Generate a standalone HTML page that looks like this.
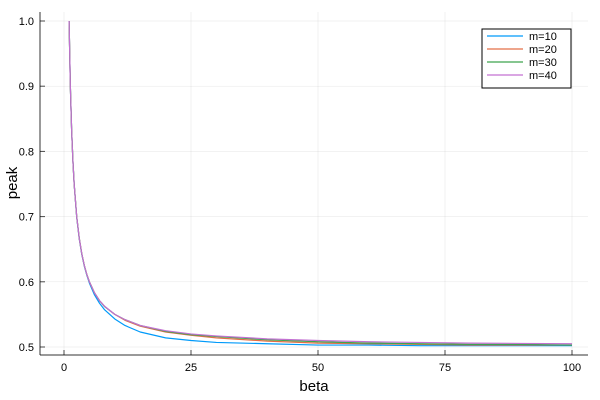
<!DOCTYPE html>
<html><head><meta charset="utf-8"><style>
body{margin:0;background:#fff}
svg{display:block;font-family:"Liberation Sans","DejaVu Sans",sans-serif}
</style></head><body>
<svg id="chart" width="600" height="400">
<rect width="600" height="400" fill="#fff"/>
<g id="grid"></g>
<g id="axes"></g>
<g id="series"></g>
<text x="314" y="391" font-size="15" text-anchor="middle">beta</text>
<text transform="translate(17,183) rotate(-90)" font-size="15" text-anchor="middle">peak</text>
<g id="legend"></g>
</svg>
<script>
const betas=[1,1.25,1.5,1.75,2,2.5,3,3.5,4,4.5,5,6,7,8,10,12,15,20,25,30,40,50,60,70,80,90,100];
const m10=[1.0,0.9,0.833,0.786,0.75,0.699,0.666,0.642,0.624,0.610,0.598,0.580,0.567,0.557,0.543,0.533,0.523,0.514,0.510,0.507,0.505,0.503,0.503,0.502,0.502,0.502,0.502];
const m20=[1.0,0.9,0.833,0.786,0.75,0.70,0.667,0.643,0.625,0.611,0.600,0.583,0.571,0.562,0.550,0.541,0.532,0.523,0.518,0.514,0.509,0.506,0.505,0.504,0.503,0.503,0.503];
const m30=[1.0,0.9,0.833,0.786,0.75,0.70,0.667,0.643,0.625,0.611,0.600,0.583,0.571,0.562,0.550,0.542,0.533,0.524,0.519,0.516,0.511,0.508,0.506,0.505,0.504,0.504,0.503];
const m40=[1.0,0.9,0.833,0.786,0.75,0.70,0.667,0.643,0.625,0.611,0.600,0.583,0.571,0.5625,0.550,0.542,0.533,0.525,0.520,0.517,0.5125,0.510,0.508,0.507,0.506,0.5055,0.505];
const seriesNames=["m=10","m=20","m=30","m=40"];
const xTicks=[0,25,50,75,100];
const yTicks=[0.5,0.6,0.7,0.8,0.9,1.0];
const colors=["#009AFA","#E36F47","#3EA44E","#C371D2"];
const NS="http://www.w3.org/2000/svg";
const X=v=>64+v*5.08;
const Y=v=>347-(v-0.5)*652;
const L=40,R=588,T=12,B=355;
function mk(tag,attrs,parent){const e=document.createElementNS(NS,tag);for(const k in attrs)e.setAttribute(k,attrs[k]);parent.appendChild(e);return e;}
const grid=document.getElementById('grid'),axes=document.getElementById('axes'),ser=document.getElementById('series'),leg=document.getElementById('legend');
xTicks.forEach(t=>{
  const g=mk('line',{x1:X(t),x2:X(t),y1:T,y2:B,stroke:'#000','stroke-opacity':0.1,'stroke-width':0.5},grid);
  
  
  const tk=mk('line',{x1:X(t),x2:X(t),y1:B,y2:B-5,stroke:'#000','stroke-opacity':0.7},axes);
  
  
  const tx=mk('text',{x:X(t),y:371,'font-size':11,'text-anchor':'middle'},axes);tx.textContent=t;
  
  
});
yTicks.forEach(t=>{
  const g=mk('line',{x1:L,x2:R,y1:Y(t),y2:Y(t),stroke:'#000','stroke-opacity':0.1,'stroke-width':0.5},grid);
  
  
  const tk=mk('line',{x1:L,x2:L+5,y1:Y(t),y2:Y(t),stroke:'#000','stroke-opacity':0.7},axes);
  
  
  const tx=mk('text',{x:34,y:Y(t)+4,'font-size':11,'text-anchor':'end'},axes);tx.textContent=t.toFixed(1);
  
  
});
const xa=mk('line',{x1:L,x2:R,y1:B,y2:B,stroke:'#000','stroke-opacity':0.8},axes);


const ya=mk('line',{x1:L,x2:L,y1:T,y2:B,stroke:'#000','stroke-opacity':0.8},axes);


[m10,m20,m30,m40].forEach((vals,i)=>{
  const p=mk('polyline',{points:betas.map((b,j)=>X(b)+','+Y(vals[j])).join(' '),fill:'none',stroke:colors[i],'stroke-width':1.2,'stroke-linejoin':'round'},ser);
  
  
});
const box=mk('rect',{x:482,y:29,width:89,height:59,fill:'#fff',stroke:'#000','stroke-width':1},leg);


seriesNames.forEach((n,i)=>{
  const y=36+i*13;
  const ln=mk('line',{x1:487,x2:523,y1:y,y2:y,stroke:colors[i],'stroke-width':1.2},leg);
  
  
  const t=mk('text',{x:529,y:y+4,'font-size':11},leg);t.textContent=n;
  
  
});
</script>
</body></html>
